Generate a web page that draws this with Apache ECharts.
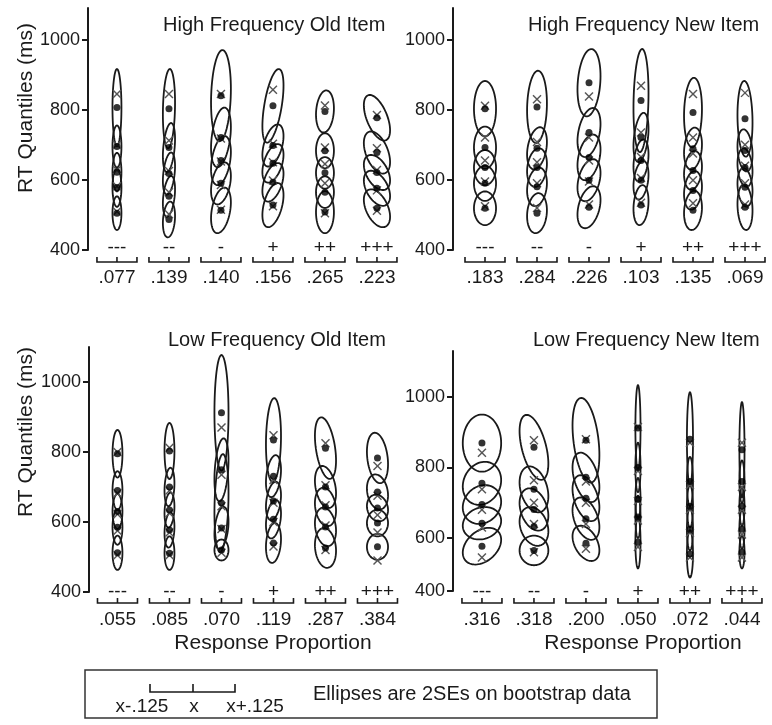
<!DOCTYPE html>
<html><head><meta charset="utf-8">
<script src="https://cdn.jsdelivr.net/npm/echarts@6/dist/echarts.min.js"></script>
<style>html,body{margin:0;padding:0;background:#fff}#c{width:772px;height:725px}</style>
</head><body><div id="c"></div>
<script>
const FONT = 'Liberation Sans, Arial, Helvetica, sans-serif';
const INK = '#1a1a1a';
const SPACING = 0.325;       // proportion units between group centres
const HALF_BRACKET = 0.125;  // bracket spans x-.125 .. x+.125
const codes = ['---', '--', '-', '+', '++', '+++'];
const yTicks = [400, 600, 800, 1000];
const yTickLabels = ['400', '600', '800', '1000'];
const lfNewYTicks = [450, 600, 800, 1000];

// ---- High Frequency Old Item ----
const hfOldProp = [0.077, 0.139, 0.140, 0.156, 0.265, 0.223];
const hfOldData = [
  [505, 578, 622, 695, 806],
  [487, 553, 618, 692, 803],
  [513, 590, 655, 721, 840],
  [528, 593, 647, 698, 811],
  [508, 565, 620, 683, 795],
  [519, 576, 621, 678, 777]];
const hfOldPred = [
  [510, 582, 628, 700, 845],
  [502, 565, 625, 712, 845],
  [515, 585, 652, 718, 845],
  [525, 598, 650, 703, 857],
  [505, 590, 645, 692, 812],
  [512, 570, 628, 690, 785]];
const hfOldH = [
  [48, 55, 55, 60, 110],
  [51, 58, 60, 70, 113],
  [65, 60, 70, 85, 130],
  [63, 55, 55, 60, 105],
  [60, 45, 45, 50, 60],
  [54, 50, 50, 60, 65]];
const hfOldW = [0.028, 0.038, 0.062, 0.066, 0.056, 0.082];
const hfOldR = [
  [0, 0, 0, 0, 0],
  [0.2, 0.35, 0.35, 0.35, 0.15],
  [0.35, 0.35, 0.35, 0.35, 0.15],
  [0.45, 0.45, 0.45, 0.45, 0.55],
  [0, 0, 0, 0, 0.15],
  [-0.45, -0.45, -0.45, -0.45, -0.55]];

// ---- High Frequency New Item ----
const hfNewProp = [0.183, 0.284, 0.226, 0.103, 0.135, 0.069];
const hfNewData = [
  [519, 590, 635, 692, 803],
  [505, 580, 635, 690, 808],
  [522, 599, 664, 735, 877],
  [528, 599, 655, 721, 826],
  [513, 570, 627, 689, 792],
  [522, 579, 635, 684, 774]];
const hfNewPred = [
  [525, 595, 655, 721, 811],
  [520, 590, 650, 708, 830],
  [530, 595, 655, 721, 838],
  [535, 605, 665, 735, 868],
  [533, 599, 675, 721, 845],
  [530, 590, 640, 700, 848]];
const hfNewH = [
  [48, 50, 50, 60, 79],
  [57, 55, 55, 60, 103],
  [60, 60, 65, 70, 96],
  [57, 55, 60, 70, 147],
  [56, 55, 55, 60, 99],
  [65, 55, 55, 60, 108]];
const hfNewW = [0.069, 0.062, 0.072, 0.047, 0.056, 0.047];
const hfNewR = [
  [0, 0, 0, 0, 0],
  [0.15, 0.2, 0.2, 0.3, 0.1],
  [0.35, 0.35, 0.35, 0.35, 0.2],
  [0.2, 0.3, 0.3, 0.35, 0.15],
  [0.15, 0.2, 0.2, 0.2, 0.1],
  [-0.15, -0.2, -0.2, -0.2, -0.1]];

// ---- Low Frequency Old Item ----
const lfOldProp = [0.055, 0.085, 0.070, 0.119, 0.287, 0.384];
const lfOldData = [
  [512, 585, 630, 690, 795],
  [511, 577, 634, 700, 803],
  [520, 583, 654, 749, 912],
  [540, 608, 660, 731, 834],
  [526, 586, 643, 700, 811],
  [529, 597, 640, 686, 783]];
const lfOldPred = [
  [505, 575, 622, 682, 800],
  [505, 570, 625, 690, 812],
  [512, 580, 645, 735, 870],
  [530, 600, 655, 720, 848],
  [520, 590, 648, 705, 825],
  [490, 570, 620, 675, 760]];
const lfOldH = [
  [49, 50, 50, 55, 68],
  [48, 50, 50, 55, 80],
  [30, 60, 140, 90, 165],
  [57, 55, 55, 60, 120],
  [57, 55, 55, 60, 88],
  [37, 38, 38, 50, 72]];
const lfOldW = [0.031, 0.031, 0.044, 0.047, 0.066, 0.066];
const lfOldR = [
  [0, 0, 0, 0, 0],
  [0, 0.2, 0.2, 0.2, 0],
  [0, 0.3, 0.2, 0.3, 0],
  [0.2, 0.3, 0.3, 0.3, 0.1],
  [-0.15, -0.2, -0.2, -0.3, -0.4],
  [0, 0, -0.15, -0.2, -0.25]];

// ---- Low Frequency New Item ----
const lfNewProp = [0.316, 0.318, 0.200, 0.050, 0.072, 0.044];
const lfNewData = [
  [577, 642, 695, 755, 869],
  [565, 633, 681, 738, 857],
  [585, 655, 713, 772, 877],
  [588, 660, 710, 800, 912],
  [555, 625, 690, 760, 880],
  [560, 625, 690, 760, 850]];
const lfNewPred = [
  [545, 630, 680, 738, 842],
  [560, 640, 700, 764, 877],
  [570, 640, 700, 760, 880],
  [575, 650, 705, 790, 915],
  [545, 615, 680, 750, 870],
  [545, 610, 680, 745, 870]];
const lfNewH = [
  [52, 46, 55, 61, 81],
  [42, 55, 60, 65, 92],
  [50, 60, 65, 70, 120],
  [74, 60, 60, 70, 121],
  [67, 60, 60, 70, 133],
  [46, 55, 55, 60, 135]];
const lfNewW = [0.12, 0.09, 0.084, 0.016, 0.019, 0.016];
const lfNewR = [
  [0.35, 0.15, 0.15, 0.15, 0],
  [0, -0.25, -0.3, -0.3, -0.5],
  [-0.4, -0.4, -0.4, -0.4, -0.35],
  [0, 0, 0, 0, 0],
  [0, 0, 0, 0, 0],
  [0, 0, 0, 0, 0]];

const panels = [
  {props: hfOldProp, data: hfOldData, pred: hfOldPred, h: hfOldH, w: hfOldW, r: hfOldR,
   grid: {left: 88, top: 8, width: 320, height: 242}, xMin: -0.181, yMin: 400, yMax: 1090, ticks: yTicks, off: [-2, 12, 28]},
  {props: hfNewProp, data: hfNewData, pred: hfNewPred, h: hfNewH, w: hfNewW, r: hfNewR,
   grid: {left: 453, top: 8, width: 317, height: 242}, xMin: -0.2, yMin: 400, yMax: 1090, ticks: yTicks, off: [-2, 12, 28]},
  {props: lfOldProp, data: lfOldData, pred: lfOldPred, h: lfOldH, w: lfOldW, r: lfOldR,
   grid: {left: 89, top: 347, width: 320, height: 245}, xMin: -0.178, yMin: 400, yMax: 1100, ticks: yTicks, off: [0, 11, 28]},
  {props: lfNewProp, data: lfNewData, pred: lfNewPred, h: lfNewH, w: lfNewW, r: lfNewR,
   grid: {left: 453, top: 351, width: 317, height: 240}, xMin: -0.181, yMin: 450, yMax: 1130, ticks: lfNewYTicks, off: [1, 12, 29]}
];

const fmtProp = p => p.toFixed(3).replace(/^0/, '');

const grids = [], xAxes = [], yAxes = [], series = [];
panels.forEach((P, i) => {
  grids.push(Object.assign({containLabel: false}, P.grid));
  const pxPerUnit = 160;
  xAxes.push({gridIndex: i, type: 'value', min: P.xMin, max: P.xMin + P.grid.width / pxPerUnit, show: false});
  yAxes.push({
    gridIndex: i, type: 'value', min: P.yMin, max: P.yMax,
    axisLine: {show: true, onZero: false, lineStyle: {color: INK, width: 2}},
    axisTick: {show: true, length: 6, customValues: P.ticks, lineStyle: {color: INK, width: 2}},
    axisLabel: {customValues: P.ticks, margin: 8, fontSize: 18, fontFamily: FONT, color: INK,
      formatter: v => yTickLabels[P.ticks.indexOf(v)]},
    splitLine: {show: false}
  });
  const ell = [], dots = [], xs = [], br = [];
  P.data.forEach((qs, g) => {
    const gx = g * SPACING;
    br.push([gx, g]);
    qs.forEach((v, q) => {
      ell.push([gx, v, P.w[g], P.h[g][q], P.r[g][q]]);
      dots.push([gx, v]);
      xs.push([gx, P.pred[g][q]]);
    });
  });
  series.push({
    type: 'custom', xAxisIndex: i, yAxisIndex: i, data: ell, z: 2, silent: true,
    encode: {x: 0, y: 1},
    renderItem: (params, api) => {
      const cx = api.value(0), cy = api.value(1), sx = api.value(2), sy = api.value(3), r = api.value(4);
      const k = Math.sqrt(1 - r * r);
      const pts = [];
      for (let j = 0; j < 72; j++) {
        const t = j / 72 * 2 * Math.PI;
        pts.push(api.coord([cx + sx * Math.cos(t), cy + sy * (r * Math.cos(t) + k * Math.sin(t))]));
      }
      return {type: 'polygon', shape: {points: pts}, style: {fill: 'none', stroke: INK, lineWidth: 1.8}};
    }
  });
  series.push({
    type: 'custom', xAxisIndex: i, yAxisIndex: i, data: xs, z: 3, silent: true,
    encode: {x: 0, y: 1},
    renderItem: (params, api) => {
      const p = api.coord([api.value(0), api.value(1)]);
      const s = 4;
      return {type: 'group', children: [
        {type: 'line', shape: {x1: p[0] - s, y1: p[1] - s, x2: p[0] + s, y2: p[1] + s}, style: {stroke: '#555', lineWidth: 1.4}},
        {type: 'line', shape: {x1: p[0] - s, y1: p[1] + s, x2: p[0] + s, y2: p[1] - s}, style: {stroke: '#555', lineWidth: 1.4}}
      ]};
    }
  });
  series.push({
    type: 'scatter', xAxisIndex: i, yAxisIndex: i, data: dots, z: 4, silent: true,
    symbol: 'circle', symbolSize: 7, itemStyle: {color: '#000'}
  });
  series.push({
    type: 'custom', xAxisIndex: i, yAxisIndex: i, data: br, z: 3, silent: true, clip: false,
    encode: {x: 0},
    renderItem: (params, api) => {
      const gx = api.value(0), g = api.value(1);
      const p = api.coord([gx, P.yMin]);
      const half = api.size([HALF_BRACKET, 0])[0];
      const by = p[1] + P.off[1];
      const st = {stroke: INK, lineWidth: 1.6, fill: 'none'};
      return {type: 'group', children: [
        {type: 'polyline', shape: {points: [[p[0] - half, by - 5], [p[0] - half, by], [p[0] + half, by], [p[0] + half, by - 5]]}, style: st},
        {type: 'line', shape: {x1: p[0], y1: by - 5, x2: p[0], y2: by}, style: st},
        {type: 'text', x: p[0], y: p[1] + P.off[0], style: {text: codes[g], font: '19px ' + FONT, fill: INK, align: 'center', verticalAlign: 'middle'}},
        {type: 'text', x: p[0], y: p[1] + P.off[2], style: {text: fmtProp(P.props[g]), font: '19px ' + FONT, fill: INK, align: 'center', verticalAlign: 'middle'}}
      ]};
    }
  });
});

const txt = (text, x, y, size, extra) => Object.assign({type: 'text', x: x, y: y,
  style: {text: text, font: size + 'px ' + FONT, fill: INK, align: 'left', verticalAlign: 'middle'}}, extra || {});

const graphics = [
  txt('High Frequency Old Item', 163, 25, 20),
  txt('High Frequency New Item', 528, 25, 20),
  txt('Low Frequency Old Item', 168, 340, 20),
  txt('Low Frequency New Item', 533, 340, 20),
  {type: 'text', x: 26, y: 108, rotation: Math.PI / 2,
   style: {text: 'RT Quantiles (ms)', font: '21px ' + FONT, fill: INK, align: 'center', verticalAlign: 'middle'}},
  {type: 'text', x: 26, y: 432, rotation: Math.PI / 2,
   style: {text: 'RT Quantiles (ms)', font: '21px ' + FONT, fill: INK, align: 'center', verticalAlign: 'middle'}},
  {type: 'text', x: 273, y: 643, style: {text: 'Response Proportion', font: '21px ' + FONT, fill: INK, align: 'center', verticalAlign: 'middle'}},
  {type: 'text', x: 643, y: 643, style: {text: 'Response Proportion', font: '21px ' + FONT, fill: INK, align: 'center', verticalAlign: 'middle'}},
  {type: 'rect', shape: {x: 85, y: 670, width: 572, height: 48}, style: {fill: 'none', stroke: '#333', lineWidth: 1.5}},
  {type: 'polyline', shape: {points: [[150, 684], [150, 692], [235, 692], [235, 684]]}, style: {fill: 'none', stroke: INK, lineWidth: 1.6}},
  {type: 'line', shape: {x1: 193, y1: 684, x2: 193, y2: 692}, style: {stroke: INK, lineWidth: 1.6}},
  {type: 'text', x: 142, y: 707, style: {text: 'x-.125', font: '19px ' + FONT, fill: INK, align: 'center', verticalAlign: 'middle'}},
  {type: 'text', x: 194, y: 707, style: {text: 'x', font: '19px ' + FONT, fill: INK, align: 'center', verticalAlign: 'middle'}},
  {type: 'text', x: 255, y: 707, style: {text: 'x+.125', font: '19px ' + FONT, fill: INK, align: 'center', verticalAlign: 'middle'}},
  txt('Ellipses are 2SEs on bootstrap data', 313, 694, 20)
];

const chart = echarts.init(document.getElementById('c'), null, {renderer: 'canvas'});
chart.setOption({
  backgroundColor: '#fff',
  animation: false,
  grid: grids, xAxis: xAxes, yAxis: yAxes, series: series,
  graphic: graphics
});
</script></body></html>
